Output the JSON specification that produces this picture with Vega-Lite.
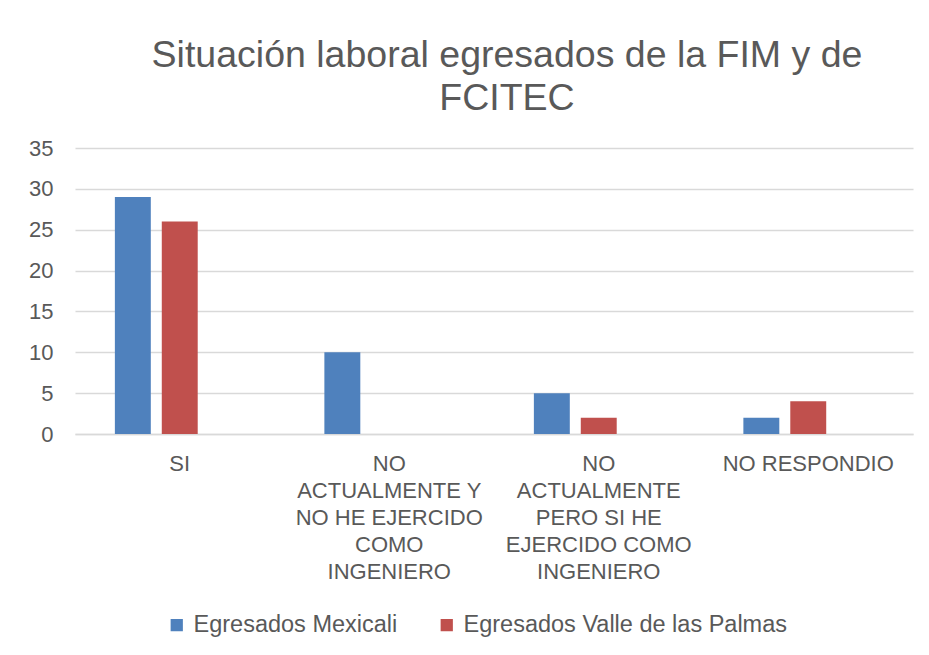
{
  "$schema": "https://vega.github.io/schema/vega-lite/v6.json",
  "autosize": {"type": "none"},
  "width": 838,
  "height": 286,
  "padding": {"left": 75, "top": 148, "right": 16, "bottom": 221},
  "background": "white",
  "config": {
    "font": "Liberation Sans",
    "view": {"stroke": null},
    "axis": {"labelColor": "#595959", "labelFont": "Liberation Sans", "gridColor": "#d9d9d9", "gridWidth": 1.3},
    "legend": {"labelColor": "#595959", "labelFont": "Liberation Sans"}
  },
  "title": {
    "text": ["Situación laboral egresados de la FIM y de", "FCITEC"],
    "fontSize": 37.5,
    "fontWeight": "normal",
    "color": "#595959",
    "font": "Liberation Sans",
    "anchor": "middle",
    "dx": 13,
    "lineHeight": 43,
    "offset": 20
  },
  "data": {
    "values": [
      {"categoria": "SI", "serie": "Egresados Mexicali", "valor": 29},
      {"categoria": "SI", "serie": "Egresados Valle de las Palmas", "valor": 26},
      {"categoria": "NO ACTUALMENTE Y NO HE EJERCIDO COMO INGENIERO", "serie": "Egresados Mexicali", "valor": 10},
      {"categoria": "NO ACTUALMENTE Y NO HE EJERCIDO COMO INGENIERO", "serie": "Egresados Valle de las Palmas", "valor": 0},
      {"categoria": "NO ACTUALMENTE PERO SI HE EJERCIDO COMO INGENIERO", "serie": "Egresados Mexicali", "valor": 5},
      {"categoria": "NO ACTUALMENTE PERO SI HE EJERCIDO COMO INGENIERO", "serie": "Egresados Valle de las Palmas", "valor": 2},
      {"categoria": "NO RESPONDIO", "serie": "Egresados Mexicali", "valor": 2},
      {"categoria": "NO RESPONDIO", "serie": "Egresados Valle de las Palmas", "valor": 4}
    ]
  },
  "mark": {"type": "bar"},
  "encoding": {
    "x": {
      "field": "categoria",
      "type": "nominal",
      "sort": null,
      "scale": {"paddingInner": 0, "paddingOuter": 0},
      "axis": {
        "title": null,
        "labelAngle": 0,
        "labelFontSize": 22,
        "labelLineHeight": 27,
        "labelPadding": 19,
        "ticks": false,
        "domainColor": "#d9d9d9",
        "domainWidth": 1.3,
        "labelLimit": 300,
        "labelExpr": "datum.value == 'NO ACTUALMENTE Y NO HE EJERCIDO COMO INGENIERO' ? ['NO', 'ACTUALMENTE Y', 'NO HE EJERCIDO', 'COMO', 'INGENIERO'] : datum.value == 'NO ACTUALMENTE PERO SI HE EJERCIDO COMO INGENIERO' ? ['NO', 'ACTUALMENTE', 'PERO SI HE', 'EJERCIDO COMO', 'INGENIERO'] : datum.value"
      }
    },
    "xOffset": {
      "field": "serie",
      "type": "nominal",
      "scale": {
        "domain": ["Egresados Mexicali", "Egresados Valle de las Palmas", "Serie 3"],
        "paddingInner": 0.234,
        "paddingOuter": 0.85
      }
    },
    "y": {
      "field": "valor",
      "type": "quantitative",
      "scale": {"domain": [0, 35], "nice": false},
      "axis": {
        "title": null,
        "values": [0, 5, 10, 15, 20, 25, 30, 35],
        "labelFontSize": 22,
        "labelPadding": 22,
        "domain": false,
        "ticks": false
      }
    },
    "color": {
      "field": "serie",
      "type": "nominal",
      "scale": {
        "domain": ["Egresados Mexicali", "Egresados Valle de las Palmas"],
        "range": ["#4f81bd", "#c0504d"]
      },
      "legend": {
        "title": null,
        "orient": "none",
        "legendX": 90,
        "legendY": 465,
        "direction": "horizontal",
        "symbolType": "square",
        "symbolSize": 150,
        "symbolStrokeWidth": 0,
        "labelFontSize": 23.5,
        "labelOffset": 5,
        "columnPadding": 37,
        "labelLimit": 400
      }
    }
  }
}
